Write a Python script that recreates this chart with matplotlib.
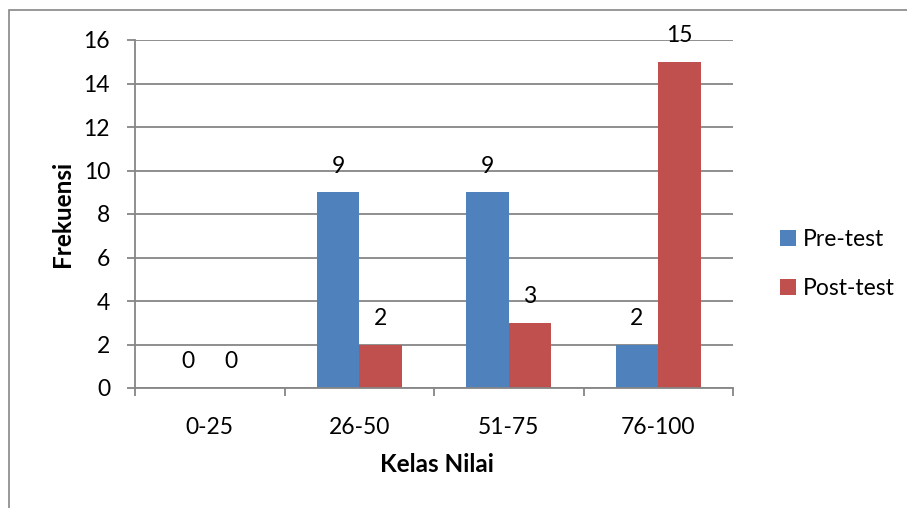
import matplotlib
matplotlib.use("Agg")
import matplotlib.pyplot as plt
import numpy as np
from matplotlib.patches import Rectangle

categories = ["0-25", "26-50", "51-75", "76-100"]
pre_test = [0, 9, 9, 2]
post_test = [0, 2, 3, 15]
series_names = ["Pre-test", "Post-test"]
y_ticks = [0, 2, 4, 6, 8, 10, 12, 14, 16]

plt.rcParams["font.family"] = ["Lato", "DejaVu Sans"]

W, H = 907, 508
fig = plt.figure(figsize=(W / 100, H / 100), dpi=100)
FS = 16.5
FSB = 17.5

# outer chart border
fig.patches.append(Rectangle((9 / W, -0.05), 1.1, (H - 10) / H + 0.05,
                             transform=fig.transFigure, fill=False,
                             edgecolor="#868686", linewidth=1.2))

left, right, top, bottom = 135, 733, 40, 388
ax = fig.add_axes([left / W, (H - bottom) / H, (right - left) / W, (bottom - top) / H])

x = np.arange(len(categories))
bw = 1 / 3.5
blue, red = "#4F81BD", "#C0504D"
grey = "#868686"

b1 = ax.bar(x - bw / 2, pre_test, bw, color=blue, label=series_names[0], zorder=2)
b2 = ax.bar(x + bw / 2, post_test, bw, color=red, label=series_names[1], zorder=2)

for bars, vals in ((b1, pre_test), (b2, post_test)):
    for r, v in zip(bars, vals):
        ax.annotate(str(v), (r.get_x() + r.get_width() / 2, v),
                    xytext=(0, 26), textcoords="offset pixels",
                    ha="center", va="center", fontsize=FS, zorder=4)

ax.set_xlim(-0.5, len(categories) - 0.5)
ax.set_ylim(0, 16)
ax.set_yticks(y_ticks)
ax.set_yticklabels([str(t) for t in y_ticks], fontsize=FS)
ax.yaxis.grid(True, color=grey, linewidth=1.3, zorder=0)
ax.set_axisbelow(True)

ax.set_xticks(x)
ax.set_xticklabels(categories, fontsize=FS)
ax.tick_params(axis="x", length=0, pad=21)
ax.set_xticks(np.arange(len(categories) + 1) - 0.5, minor=True)
ax.tick_params(axis="x", which="minor", length=6, color=grey, width=1.3)
ax.tick_params(axis="y", length=6, color=grey, width=1.3, pad=12)

for s in ("top", "right"):
    ax.spines[s].set_visible(False)
for s in ("left", "bottom"):
    ax.spines[s].set_color(grey)
    ax.spines[s].set_linewidth(1.3)

ax.set_xlabel("Kelas Nilai", fontsize=FSB, fontweight="bold", va="center")
ax.xaxis.set_label_coords(437 / W, (H - 465) / H, transform=fig.transFigure)
ax.set_ylabel("Frekuensi", fontsize=FSB, fontweight="bold", va="center")
ax.yaxis.set_label_coords(62 / W, (H - 214) / H, transform=fig.transFigure)

ax.legend(loc="center left", bbox_to_anchor=(771 / W, (H - 264) / H),
          bbox_transform=fig.transFigure, frameon=False, fontsize=FS,
          handlelength=0.7, handleheight=0.7, handletextpad=0.3,
          labelspacing=1.2, borderaxespad=0)

fig.savefig("out.png", dpi=100)
